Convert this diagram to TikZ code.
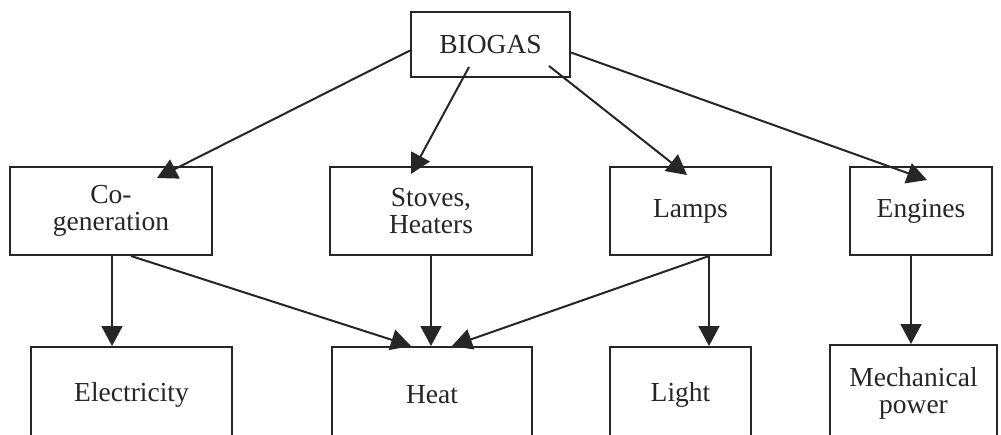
\documentclass[tikz,border=0pt]{standalone}
\usepackage{fontspec}
\setmainfont{Liberation Serif}
\usetikzlibrary{calc,arrows.meta}
\begin{document}
\begin{tikzpicture}[x=1pt,y=-1pt,
  box/.style={draw=black!85,line width=2pt,rectangle,align=center,inner sep=0pt,
    font=\fontsize{27.5}{27}\selectfont,text=black!85},
  conn/.style={draw=black!85,line width=2pt,-{Triangle[length=20pt,width=21pt]}}]
\useasboundingbox (0,0) rectangle (1001,434);
\clip (0,0) rectangle (1001,434);
\fill[white] (0,0) rectangle (1001,434);
% top
\node[box,minimum width=159pt,minimum height=65pt] (biogas) at (490.5,44.5) {BIOGAS};
% middle row
\node[box,minimum width=202pt,minimum height=88pt] (cog) at (111,211) {Co-\\generation};
\node[box,minimum width=202pt,minimum height=88pt] (stoves) at (431,211) {Stoves,\\Heaters};
\node[box,minimum width=161pt,minimum height=88pt] (lamps) at (690.5,211) {Lamps};
\node[box,minimum width=142pt,minimum height=88pt] (engines) at (921,211) {Engines};
% bottom row
\node[box,minimum width=201pt,minimum height=96pt] (elec) at (131.5,395) {Electricity};
\node[box,minimum width=200pt,minimum height=96pt] (heat) at (432,395) {Heat};
\node[box,minimum width=141pt,minimum height=96pt] (light) at (680.5,395) {Light};
\node[box,minimum width=167pt,minimum height=96pt] (mech) at (913.5,393) {Mechanical\\power};
% connectors from BIOGAS
\draw[conn] ($(biogas.west)+(0,6)$) -- ($(cog.north west)+(148,12)$);
\draw[conn] ($(biogas.north west)+(59,56)$) -- ($(stoves.north west)+(82,8)$);
\draw[conn] ($(biogas.north west)+(139,55)$) -- ($(lamps.north west)+(78,9)$);
\draw[conn] ($(biogas.east)+(0,8)$) -- ($(engines.north west)+(78,14)$);
% lower connectors
\coordinate (c1) at ($(cog.south west)+(103,0)$);
\draw[conn] (c1) -- (c1 |- elec.north);
\draw[conn] ($(cog.south west)+(122,0)$) -- ($(heat.north west)+(80,0)$);
\draw[conn] (stoves.south) -- (stoves.south |- heat.north);
\draw[conn] ($(lamps.south west)+(100,0)$) -- ($(heat.north west)+(121,0)$);
\coordinate (c2) at ($(lamps.south west)+(100,0)$);
\draw[conn] (c2) -- (c2 |- light.north);
\coordinate (c3) at ($(engines.south west)+(62,0)$);
\draw[conn] (c3) -- (c3 |- mech.north);
\end{tikzpicture}
\end{document}
